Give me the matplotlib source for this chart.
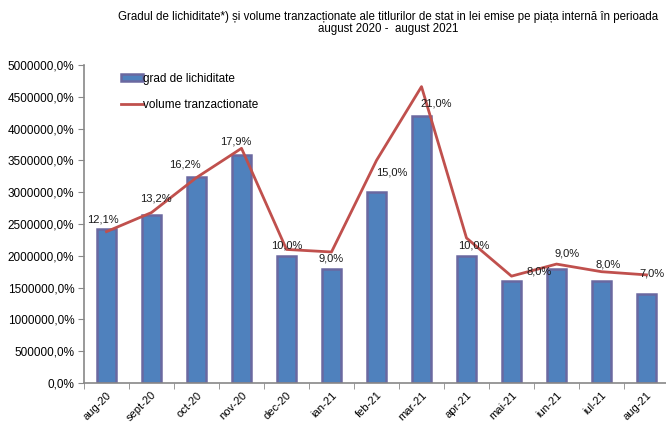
import matplotlib
matplotlib.use("Agg")
import matplotlib.pyplot as plt
import numpy as np
from matplotlib.ticker import FuncFormatter

plt.rcParams["font.family"] = ["Liberation Sans", "DejaVu Sans"]

months = ["aug-20", "sept-20", "oct-20", "nov-20", "dec-20", "ian-21", "feb-21",
          "mar-21", "apr-21", "mai-21", "iun-21", "iul-21", "aug-21"]
liquidity_pct = [12.1, 13.2, 16.2, 17.9, 10.0, 9.0, 15.0, 21.0, 10.0, 8.0, 9.0, 8.0, 7.0]
# bars are drawn on the volume scale (200000 per percentage point)
bar_values = [2420000, 2640000, 3240000, 3580000, 2000000, 1800000, 3000000,
              4200000, 2000000, 1600000, 1800000, 1600000, 1400000]
volumes = [2380000, 2680000, 3230000, 3690000, 2100000, 2060000, 3500000,
           4660000, 2280000, 1680000, 1870000, 1750000, 1700000]

# label nudges in pixels (dx, dy above bar top)
label_dx = [-4, 4, -12, -6, 0, 0, 15, 15, 7, 28, 11, 7, 5]
label_dy = [10, 17, 12, 14, 10, 10, 20, 12, 10, 10, 15, 17, 20]

fig = plt.figure(figsize=(6.66, 4.23), dpi=100)
ax = fig.add_axes([84 / 666, 40 / 423, 585 / 666, 318 / 423])

x = np.arange(len(months))
bars = ax.bar(x, bar_values, width=0.44, color="#4F81BD", edgecolor="#6A68A0",
              linewidth=1.8, zorder=2)
line, = ax.plot(x, volumes, color="#C0504D", linewidth=2, zorder=3)

for xi, top, pct, dx, dy in zip(x, bar_values, liquidity_pct, label_dx, label_dy):
    ax.annotate(f"{pct:.1f}%".replace(".", ","), (xi, top), xytext=(dx, dy),
                textcoords="offset pixels", ha="center", va="center",
                fontsize=8, color="#1a1a1a", zorder=4)

ax.set_xlim(-0.5, len(months) - 0.5)
ax.set_ylim(0, 5000000)
ax.set_yticks(np.arange(0, 5000001, 500000))
ax.yaxis.set_major_formatter(FuncFormatter(lambda v, p: f"{v:.1f}%".replace(".", ",")))
ax.set_xticks(x)
ax.set_xticklabels(months, rotation=45, ha="right", rotation_mode="anchor")
ax.set_xticks(np.arange(-0.5, len(months), 1), minor=True)
ax.tick_params(axis="x", which="major", length=0, labelsize=8, pad=5)
ax.tick_params(axis="x", which="minor", length=4, color="#888888", direction="out")
ax.tick_params(axis="y", length=4, color="#888888", labelsize=8.5, pad=3)

for s in ["top", "right"]:
    ax.spines[s].set_visible(False)
for s in ["left", "bottom"]:
    ax.spines[s].set_color("#888888")
    ax.spines[s].set_linewidth(1.2)

ax.legend([bars, line], ["grad de lichiditate", "volume tranzactionate"],
          loc="upper left", bbox_to_anchor=(0.055, 0.99), frameon=False,
          fontsize=8.5, handlelength=1.9, handleheight=0.6, handletextpad=0.0,
          labelspacing=1.2, borderaxespad=0)

fig.text(0.583, 0.975, "Gradul de lichiditate*) și volume tranzacționate ale titlurilor de stat in lei emise pe piața internă în perioada\naugust 2020 -  august 2021",
         ha="center", va="top", fontsize=8.3, linespacing=1.1)

fig.savefig("out.png", dpi=100)
